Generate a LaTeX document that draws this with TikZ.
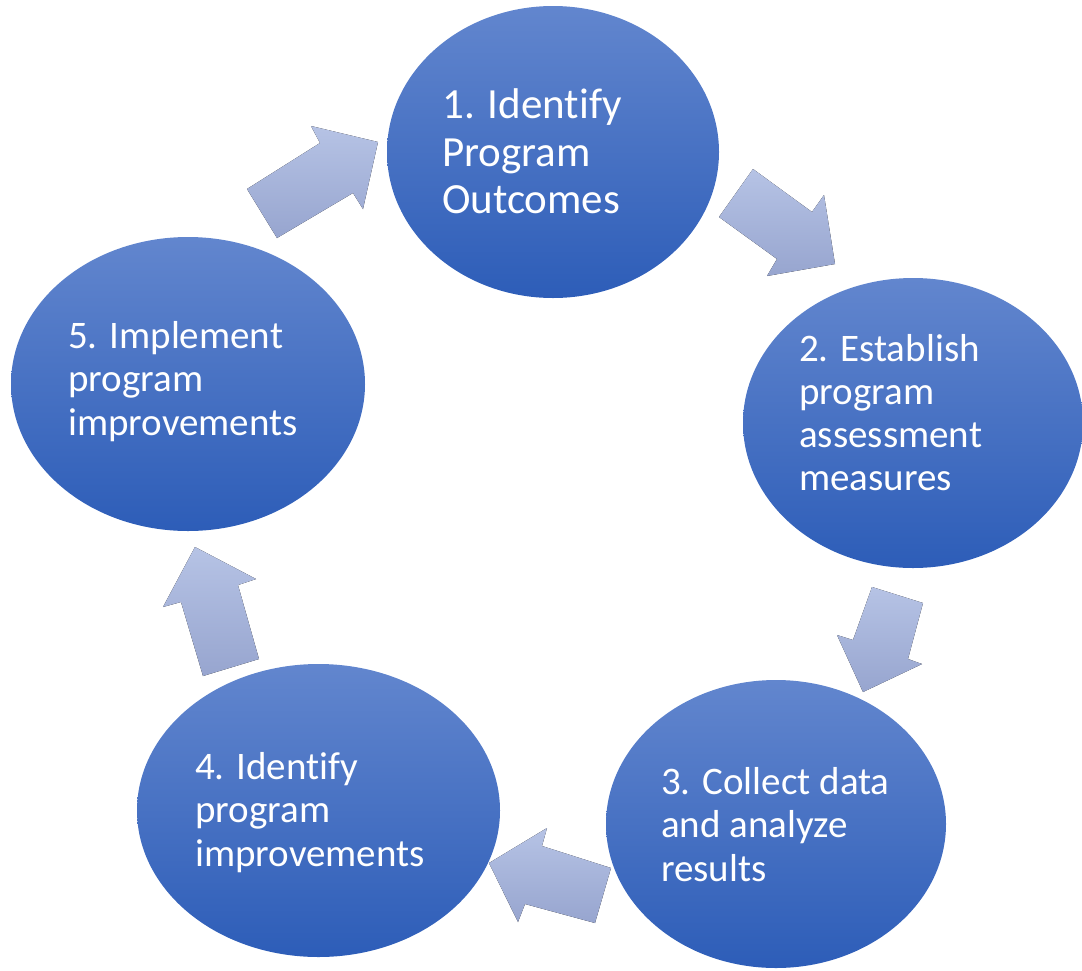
\documentclass[tikz,border=0pt]{standalone}
\usepackage{fontspec}
\setmainfont{Carlito}[Ligatures={NoCommon}]
\usetikzlibrary{shapes.geometric}
\definecolor{elltop}{HTML}{6286CE}
\definecolor{ellbot}{HTML}{2D5DB8}
\definecolor{arrtop}{HTML}{B6C3E5}
\definecolor{arrbot}{HTML}{97A5CF}
\tikzset{
  stage/.style={ellipse, draw=none, inner sep=0pt, top color=elltop, bottom color=ellbot},
  blockarrow/.style={draw=none, top color=arrtop, bottom color=arrbot},
  lbl/.style={anchor=base west, inner sep=0pt, text=white, font=\fontsize{39}{43.5}\selectfont},
  lblbig/.style={lbl, font=\fontsize{43}{47.5}\selectfont}
}
\begin{document}
\begin{tikzpicture}[x=1pt,y=-1pt]
\useasboundingbox (0,0) rectangle (1082,970);
% block arrows
\fill[blockarrow] (753,169) -- (812,212) -- (824,195) -- (835,264) -- (767,276) -- (777,259) -- (719,217) -- cycle;
\fill[blockarrow] (872,587) -- (923,603) -- (908,659) -- (922,664) -- (863,692) -- (837,635) -- (853,640) -- cycle;
\fill[blockarrow] (611,868) -- (595,923) -- (525,904) -- (518,922) -- (489,863) -- (547,828) -- (542,846) -- cycle;
\fill[blockarrow] (203,676) -- (259,659) -- (238,585) -- (256,579) -- (195,547) -- (163,607) -- (181,602) -- cycle;
\fill[blockarrow] (277,238) -- (247,189) -- (320,143) -- (311,126) -- (378,142) -- (363,209) -- (353,193) -- cycle;
% stages
\node[stage, minimum width=332pt, minimum height=292pt] (e1) at (553,152) {};
\node[stage, minimum width=340pt, minimum height=290pt] (e2) at (913,423) {};
\node[stage, minimum width=340pt, minimum height=288pt] (e3) at (776,824) {};
\node[stage, minimum width=363pt, minimum height=293pt] (e4) at (318.5,810.5) {};
\node[stage, minimum width=354pt, minimum height=294pt] (e5) at (188,384) {};
% labels
\node[lblbig] (t1a) at (442,118) {1. Identify};
\node[lblbig] (t1b) at (442,166) {Program};
\node[lblbig] (t1c) at (442,213) {Outcomes};
\node[lbl] (t2a) at (799,361) {2. Establish};
\node[lbl] (t2b) at (799,404) {program};
\node[lbl] (t2c) at (799,447) {assessment};
\node[lbl] (t2d) at (799,490) {measures};
\node[lbl] (t3a) at (661,794) {3. Collect data};
\node[lbl] (t3b) at (661,837) {and analyze};
\node[lbl] (t3c) at (661,881) {results};
\node[lbl] (t4a) at (195,779) {4. Identify};
\node[lbl] (t4b) at (195,822) {program};
\node[lbl] (t4c) at (195,866) {improvements};
\node[lbl] (t5a) at (68,348) {5. Implement};
\node[lbl] (t5b) at (68,391) {program};
\node[lbl] (t5c) at (68,435) {improvements};
\end{tikzpicture}
\end{document}
